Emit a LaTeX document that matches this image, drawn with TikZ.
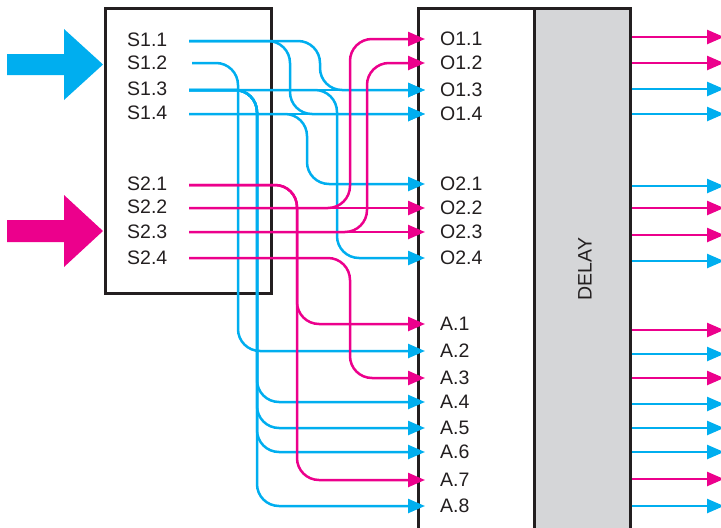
\documentclass[tikz,border=0pt]{standalone}
\usepackage{fontspec}
\setmainfont{Liberation Sans}
\usetikzlibrary{arrows.meta}
\definecolor{cy}{HTML}{00AEEF}
\definecolor{mg}{HTML}{EC008C}
\definecolor{ink}{HTML}{231F20}
\definecolor{dgray}{HTML}{D5D6D8}
\begin{document}
\begin{tikzpicture}[x=1pt,y=-1pt,
  lbl/.style={font=\fontsize{19.5}{22}\selectfont, text=ink, inner sep=0pt, anchor=west},
  wire/.style={line width=2.5pt, rounded corners=22pt},
  bw/.style={wire, draw=cy, -{Triangle[length=17pt,width=14pt]}},
  mw/.style={wire, draw=mg, -{Triangle[length=17pt,width=14pt]}},
  frame/.style={draw=ink, line width=2.5pt, inner sep=0pt, anchor=north west}]
\useasboundingbox (0,0) rectangle (721,528);
% boxes
\node[frame, minimum width=166pt, minimum height=285pt] (src) at (104,7) {};
\node[frame, fill=white, minimum width=116pt, minimum height=545pt] (mux) at (417,7) {};
\node[frame, fill=dgray, minimum width=96pt, minimum height=545pt] (dly) at (533,7) {};
\node[lbl, rotate=90, anchor=center] (dlytext) at (585,269) {DELAY};
% big input arrows
\fill[cy] (7,54) -- (64,54) -- (64,29) -- (103,64.5) -- (64,100) -- (64,75) -- (7,75) -- cycle;
\fill[mg] (7,220) -- (64,220) -- (64,195) -- (103,231) -- (64,267) -- (64,242) -- (7,242) -- cycle;
% source labels and wire starts
\foreach \n/\t/\y in {s11/S1.1/40, s12/S1.2/63, s13/S1.3/89, s14/S1.4/113,
                      s21/S2.1/184, s22/S2.2/207, s23/S2.3/232, s24/S2.4/258}
  \node[lbl] (\n) at (127,\y) {\t};
\coordinate (i11) at (189,41);
\coordinate (i12) at (192,63);
\coordinate (i13) at (189,90);
\coordinate (i14) at (189,114);
\coordinate (i21) at (189,185);
\coordinate (i22) at (189,208);
\coordinate (i23) at (189,232);
\coordinate (i24) at (189,258);
% target labels and arrow tips
\foreach \n/\t/\y in {o11/O1.1/39, o12/O1.2/63, o13/O1.3/90, o14/O1.4/114,
                      o21/O2.1/184, o22/O2.2/208, o23/O2.3/232, o24/O2.4/258,
                      a1/A.1/324, a2/A.2/351, a3/A.3/378, a4/A.4/402,
                      a5/A.5/428, a6/A.6/452, a7/A.7/480, a8/A.8/506}{
  \node[lbl] (\n) at (440,\y) {\t};
  \coordinate (t\n) at (425,\y);
}
% blue wires
\draw[bw] (i11) -- (290,41) -- (290,114) -- (to14);
\draw[bw] (i11) -- (320,41) -- (320,90) -- (to13);
\draw[bw] (i13) -- (to13);
\draw[bw] (i14) -- (to14);
\draw[bw] (i14) -- (307,114) -- (307,184) -- (to21);
\draw[bw] (i13) -- (337,90) -- (337,258) -- (to24);
\draw[bw] (i12) -- (238,63) -- (238,351) -- (ta2);
\foreach \t/\y in {a4/402, a5/428, a6/452, a8/506}
  \draw[bw] (i13) -- (257,90) -- (257,\y) -- (t\t);
% magenta wires
\draw[mw] (i21) -- (297,185) -- (297,324) -- (ta1);
\draw[mw] (i21) -- (297,185) -- (297,480) -- (ta7);
\draw[mw] (i22) -- (to22);
\draw[mw] (i22) -- (350,208) -- (350,39) -- (to11);
\draw[mw] (i23) -- (to23);
\draw[mw] (i23) -- (367,232) -- (367,63) -- (to12);
\draw[mw] (i24) -- (350,258) -- (350,378) -- (ta3);
% outputs
\foreach \k/\c/\y in {1/mw/37, 2/mw/63, 3/bw/89, 4/bw/114, 5/bw/186, 6/mw/208, 7/mw/235, 8/bw/261,
                      9/mw/330, 10/bw/354, 11/mw/378, 12/bw/404, 13/bw/428, 14/bw/452, 15/mw/479, 16/bw/506}{
  \coordinate (r\k) at (724,\y);
  \draw[\c] (dly.east |- r\k) -- (r\k);
}
\end{tikzpicture}
\end{document}
